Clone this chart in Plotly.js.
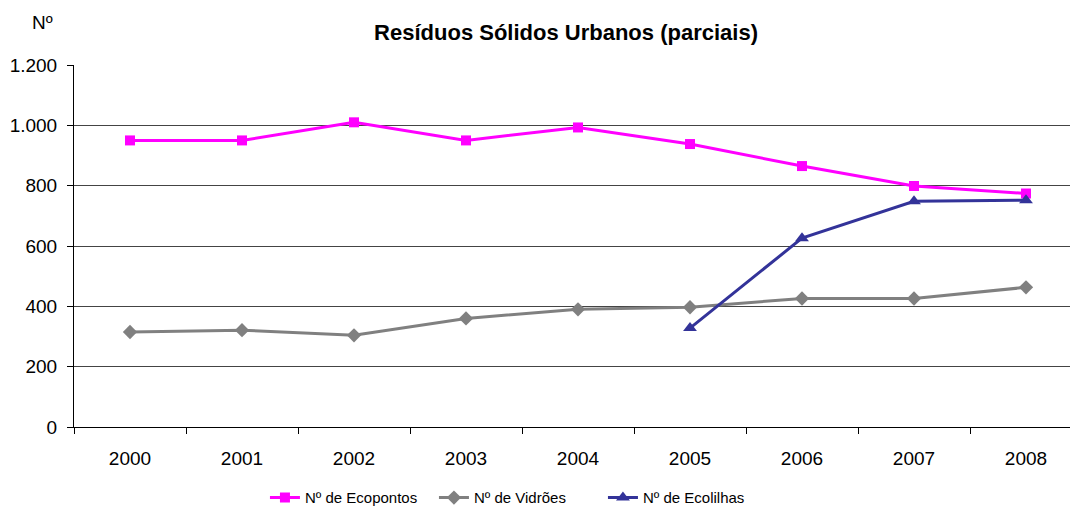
<!DOCTYPE html>
<html>
<head>
<meta charset="utf-8">
<script src="https://cdn.plot.ly/plotly-3.0.1.min.js"></script>
<style>
html,body{margin:0;padding:0;overflow:hidden;background:#fff;}
#chart{width:1085px;height:509px;}
</style>
</head>
<body>
<div id="chart"></div>
<script>
const years = ["2000","2001","2002","2003","2004","2005","2006","2007","2008"];
const ecopontos = [950, 950, 1010, 950, 993, 938, 865, 799, 774];
const vidroes = [315, 321, 304, 360, 390, 397, 426, 426, 463];
const ecolilhas = [null, null, null, null, null, 328, 626, 748, 752];
const seriesNames = ["Nº de Ecopontos", "Nº de Vidrões", "Nº de Ecolilhas"];

const traces = [
  {x: years, y: ecopontos, name: seriesNames[0], type: "scatter", mode: "lines+markers",
   line: {color: "#FF00FF", width: 3}, marker: {symbol: "square", size: 10, color: "#FF00FF"}},
  {x: years, y: vidroes, name: seriesNames[1], type: "scatter", mode: "lines+markers",
   line: {color: "#808080", width: 3}, marker: {symbol: "diamond", size: 11, color: "#808080"}},
  {x: years, y: ecolilhas, name: seriesNames[2], type: "scatter", mode: "lines+markers",
   line: {color: "#333399", width: 3}, marker: {symbol: "triangle-up", size: 12, color: "#333399"}}
];

const layout = {
  width: 1085, height: 509,
  margin: {l: 74, r: 3, t: 65, b: 82},
  paper_bgcolor: "#fff", plot_bgcolor: "#fff",
  separators: ",.",
  font: {family: "Liberation Sans, Arial, sans-serif", size: 19, color: "#000"},
  showlegend: true,
  title: {text: "<b>Resíduos Sólidos Urbanos (parciais)</b>", x: 0.5217, xanchor: "center", y: 0.937, yanchor: "middle",
          font: {family: "Liberation Sans, Arial, sans-serif", size: 22, color: "#000"}},
  xaxis: {type: "category", range: [-0.5, 8.5], showgrid: false, showline: true, linecolor: "#000", linewidth: 1,
          ticks: "outside", tickson: "boundaries", ticklen: 6, tickcolor: "#000", zeroline: false, automargin: false,
          ticklabelstandoff: 14, tickfont: {size: 19}, fixedrange: true},
  yaxis: {range: [0, 1200], dtick: 200, tickformat: ",d", showgrid: true, gridcolor: "#444", gridwidth: 1,
          showline: true, linecolor: "#000", linewidth: 1, ticks: "outside", ticklen: 6, tickcolor: "#000",
          zeroline: false, automargin: false, ticklabelstandoff: 6, tickfont: {size: 19}, fixedrange: true},
  legend: {orientation: "h", xref: "container", yref: "container", x: 0.2442, xanchor: "left", y: 0.022, yanchor: "middle",
           font: {size: 15}, entrywidth: 124, entrywidthmode: "pixels", itemwidth: 30, tracegroupgap: 0},
  annotations: [{text: "Nº", xref: "paper", yref: "paper", x: -0.031, y: 1.0, yshift: 43, xanchor: "center", yanchor: "middle",
                 showarrow: false, font: {size: 19, color: "#000"}}]
};

Plotly.newPlot("chart", traces, layout, {displayModeBar: false, staticPlot: true});
</script>
</body>
</html>
